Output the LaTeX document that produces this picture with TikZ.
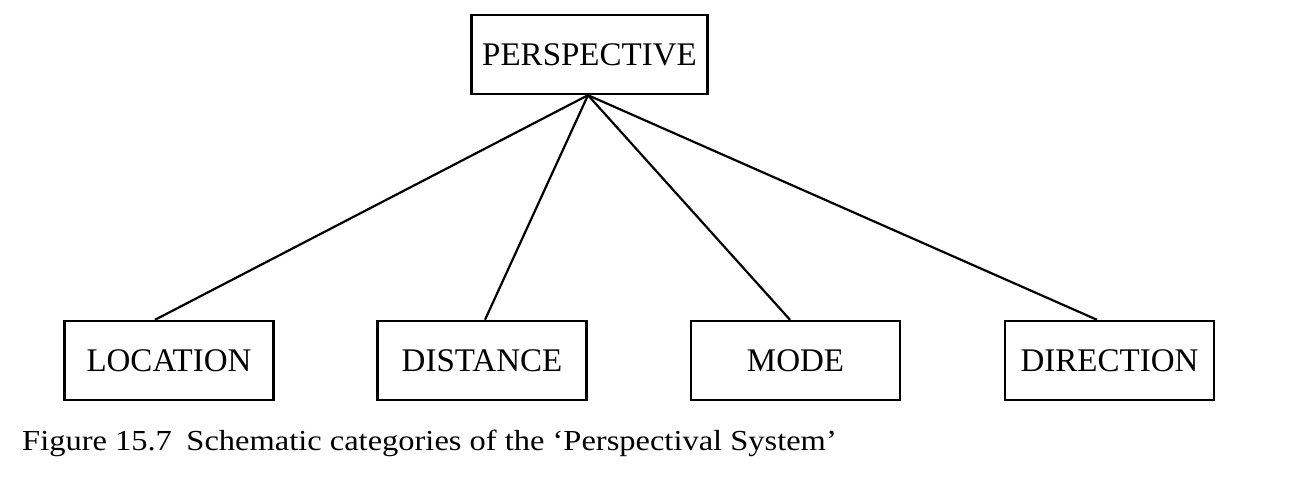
\documentclass[tikz,border=0pt]{standalone}
\usepackage{fontspec}
\setmainfont{Liberation Serif}
\newfontfamily\capfont[FakeStretch=1.12]{Liberation Serif}
\begin{document}
\begin{tikzpicture}[x=1pt,y=-1pt,
  box/.style={draw,line width=2.4pt,inner sep=0pt,minimum height=79pt,font=\fontsize{33}{38}\selectfont},
  link/.style={line width=2.2pt}]
\useasboundingbox (0,0) rectangle (1296,486);
\node[box,minimum width=236pt] (per) at (589.5,54.5) {PERSPECTIVE};
\node[box,minimum width=209pt] (loc) at (169,360.5) {LOCATION};
\node[box,minimum width=209pt] (dis) at (482,360.5) {DISTANCE};
\node[box,minimum width=209pt] (mod) at (795.5,360.5) {MODE};
\node[box,minimum width=209pt] (dir) at (1109.5,360.5) {DIRECTION};
\draw[link] ([xshift=-1.5pt]per.south) -- ([xshift=-14pt]loc.north);
\draw[link] ([xshift=-1.5pt]per.south) -- ([xshift=3pt]dis.north);
\draw[link] ([xshift=-1.5pt]per.south) -- ([xshift=-5.5pt]mod.north);
\draw[link] ([xshift=-1.5pt]per.south) -- ([xshift=-12.5pt]dir.north);
\node[anchor=base west,inner sep=0pt,font=\capfont\fontsize{29}{34}\selectfont] (cap) at (22,450) {Figure 15.7\hspace{0.5em}Schematic categories of the ‘Perspectival System’};
\end{tikzpicture}
\end{document}
